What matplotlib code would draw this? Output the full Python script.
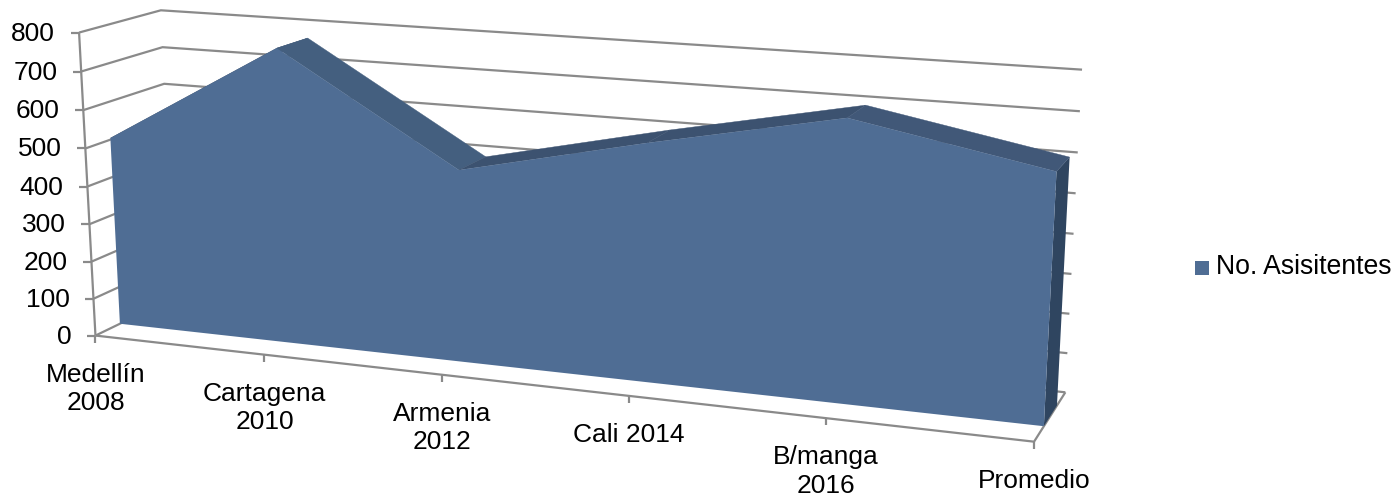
import numpy as np
import matplotlib
matplotlib.use("Agg")
import matplotlib.pyplot as plt
from matplotlib.patches import Polygon

plt.rcParams['font.family'] = ['Liberation Sans', 'DejaVu Sans']

categories = ["Medellín\n2008", "Cartagena\n2010", "Armenia\n2012", "Cali 2014", "B/manga\n2016", "Promedio"]
values = [504, 772, 497, 603, 700, 611]
y_ticks = [0, 100, 200, 300, 400, 500, 600, 700, 800]
series_name = "No. Asisitentes"

Y_MAX = 800
DEPTH_FRONT, DEPTH_BACK = 0.3, 0.72
TOP_SHADES = ['#3C5270', '#445F7F', '#3C5270', '#3C5270', '#415878']

# camera calibration: cube coordinates (u, v, d) -> pixels
cal = [
    (0, 0, 0, 95, 334), (.2, 0, 0, 264, 354), (.4, 0, 0, 441.7, 373.5), (.6, 0, 0, 628.7, 396),
    (.8, 0, 0, 826, 419), (1, 0, 0, 1035, 443), (0, 1, 0, 80, 34),
    (0, 0, 1, 175, 301), (1, 0, 1, 1065, 390), (0, 1, 1, 160, 8), (1, 1, 1, 1082, 70.7),
]
A = []
for X, Y, Z, x, y in cal:
    A.append([X, Y, Z, 1, 0, 0, 0, 0, -x*X, -x*Y, -x*Z, -x])
    A.append([0, 0, 0, 0, X, Y, Z, 1, -y*X, -y*Y, -y*Z, -y])
P = np.linalg.svd(np.array(A, float))[2][-1].reshape(3, 4)

def proj(i, val, depth):
    h = P @ np.array([i / (len(categories) - 1), val / Y_MAX, depth, 1.0])
    return h[0] / h[2], h[1] / h[2]

fig = plt.figure(figsize=(13.95, 5), dpi=100)
ax = fig.add_axes([0, 0, 1, 1])
ax.set_xlim(0, 1395); ax.set_ylim(500, 0); ax.axis('off')

GRID = '#8A8A8A'
LW = 1.6
n = len(categories) - 1
line = dict(color=GRID, lw=LW, zorder=1, solid_capstyle='butt', solid_joinstyle='miter')
for t in y_ticks:
    ax.plot(*zip(proj(0, t, 0), proj(0, t, 1), proj(n, t, 1)), **line)
    a = proj(0, t, 0)
    ax.plot([a[0] - 8, a[0]], [a[1], a[1]], **line)
    ax.text(a[0] - 24, a[1] + 1, str(t), ha='right', va='center', fontsize=19, color='black')
ax.plot(*zip(proj(0, 0, 0), proj(n, 0, 0), proj(n, 0, 1)), **line)
ax.plot(*zip(proj(0, 0, 0), proj(0, Y_MAX, 0)), **line)
for i, lab in enumerate(categories):
    a = proj(i, 0, 0)
    ax.plot([a[0], a[0]], [a[1], a[1] + 7], **line)
    ax.text(a[0], a[1] + 27, lab, ha='center', va='top', fontsize=19, color='black', linespacing=1.24)

idx = range(len(values))
ax.add_patch(Polygon([proj(n, 0, DEPTH_FRONT), proj(n, 0, DEPTH_BACK), proj(n, values[-1], DEPTH_BACK), proj(n, values[-1], DEPTH_FRONT)], fc='#2F4560', ec='none', zorder=2))
for i in range(n):
    c = TOP_SHADES[i]
    ax.add_patch(Polygon([proj(i, values[i], DEPTH_FRONT), proj(i+1, values[i+1], DEPTH_FRONT), proj(i+1, values[i+1], DEPTH_BACK), proj(i, values[i], DEPTH_BACK)], fc=c, ec=c, lw=0.3, zorder=2))
front = [proj(0, 0, DEPTH_FRONT)] + [proj(i, values[i], DEPTH_FRONT) for i in idx] + [proj(n, 0, DEPTH_FRONT)]
ax.add_patch(Polygon(front, fc='#4F6D94', ec='none', zorder=3))

ax.add_patch(Polygon([(1195, 261), (1209, 261), (1209, 275), (1195, 275)], fc='#4F6D94', ec='none'))
ax.text(1216, 267, series_name, ha='left', va='center', fontsize=19.2, color='black')

fig.savefig("out.png", dpi=100)
